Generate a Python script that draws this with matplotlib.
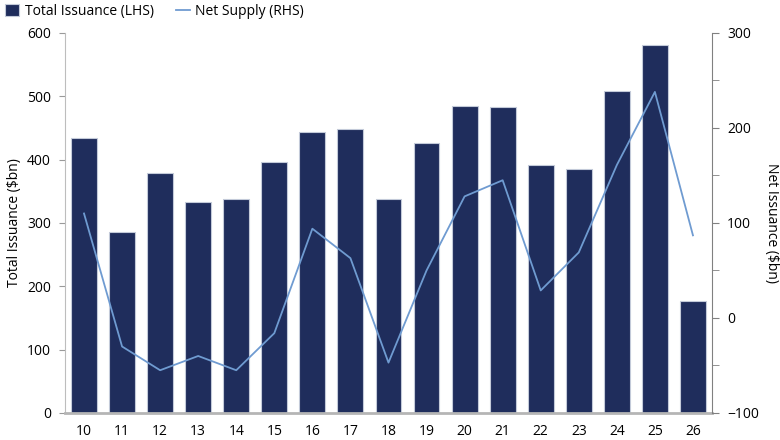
import matplotlib.pyplot as plt
import numpy as np

plt.rcParams['font.family'] = ['Open Sans', 'DejaVu Sans']

years = ["10", "11", "12", "13", "14", "15", "16", "17", "18",
         "19", "20", "21", "22", "23", "24", "25", "26"]
total_issuance = [434, 286, 379, 333, 338, 397, 444, 448, 338,
                  426, 485, 483, 391, 385, 508, 581, 177]
net_supply = [110, -30, -55, -40, -55, -16, 94, 63, -47,
              50, 128, 145, 29, 69, 161, 238, 87]

bar_col = "#1f2d5c"
line_col = "#6f9bd1"

fig = plt.figure(figsize=(7.8, 4.4), dpi=100)
ax = fig.add_axes([0.0833, 0.0614, 0.8295, 0.8636])
x = np.arange(len(years))
bars = ax.bar(x, total_issuance, width=0.68, color=bar_col,
              edgecolor="#c3cad9", linewidth=0.8, label="Total Issuance (LHS)", zorder=2)
ax.set_xlim(-0.5, len(years) - 0.5)
ax.set_ylim(0, 600)
ax.set_yticks(np.arange(0, 601, 100))
ax.set_xticks(x)
ax.set_xticklabels(years)
ax.set_ylabel("Total Issuance ($bn)", fontsize=10, labelpad=4)

ax.spines["top"].set_visible(False)
ax.spines["right"].set_visible(False)
ax.spines["left"].set_color("#bdbdbd")
ax.spines["bottom"].set_color("#b5b5b5")
ax.spines["bottom"].set_linewidth(2)
ax.tick_params(axis="y", length=4, color="#9a9a9a", labelsize=10, pad=6)
ax.tick_params(axis="x", length=0, labelsize=10, pad=8)

ax2 = ax.twinx()
line, = ax2.plot(x, net_supply, color=line_col, linewidth=1.3, label="Net Supply (RHS)", zorder=3)
ax2.set_ylim(-100, 300)
ax2.set_yticks(np.arange(-100, 301, 100))
ax2.set_yticks(np.arange(-50, 300, 100), minor=True)
ax2.set_ylabel("Net Issuance ($bn)", fontsize=10, rotation=270, labelpad=14)
for s in ["top", "left", "bottom"]:
    ax2.spines[s].set_visible(False)
ax2.spines["right"].set_color("#808080")
ax2.tick_params(axis="y", which="both", length=5, color="#808080", labelsize=10, pad=6)

fig.legend([bars, line], ["Total Issuance (LHS)", "Net Supply (RHS)"],
           loc="upper left", bbox_to_anchor=(-0.004, 1.01), ncol=2, frameon=False,
           fontsize=10, handlelength=1.0, handleheight=0.9, columnspacing=1.6,
           handletextpad=0.4, borderaxespad=0.2)

plt.savefig("out.png", dpi=100)
